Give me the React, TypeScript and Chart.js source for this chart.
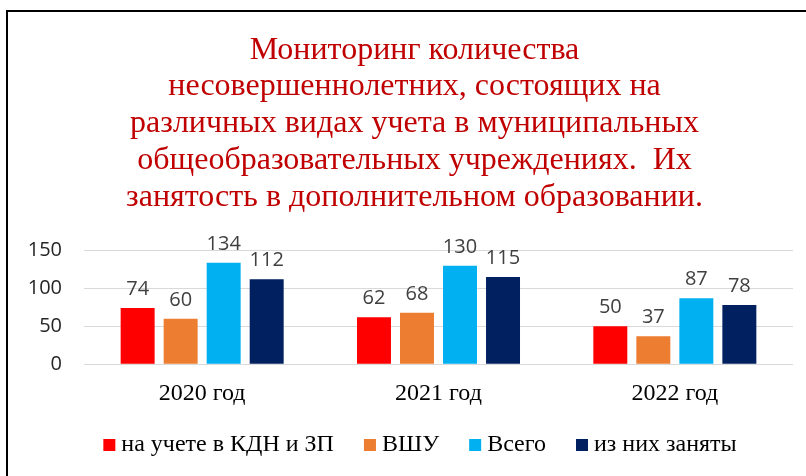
import { useEffect, useRef } from "react";
import { Chart, registerables } from "chart.js";

Chart.register(...registerables);

const categories = ["2020 год", "2021 год", "2022 год"];
const seriesNames = ["на учете в КДН и ЗП", "ВШУ", "Всего", "из них заняты"];
const kdnValues = [74, 62, 50];
const vshuValues = [60, 68, 37];
const totalValues = [134, 130, 87];
const employedValues = [112, 115, 78];
const seriesColors = ["#FF0000", "#ED7D31", "#00B0F0", "#002060"];
const yMin = 0;
const yMax = 150;
const yStep = 50;
const titleLines = [
  "Мониторинг количества",
  "несовершеннолетних, состоящих на",
  "различных видах учета в муниципальных",
  "общеобразовательных учреждениях.  Их",
  "занятость в дополнительном образовании.",
];

const frameLegendLabels = {
  id: "frameLegendLabels",
  afterLayout(chart: any) {
    const tb = chart.titleBlock;
    if (tb) {
      tb.left += 6;
      tb.right += 6;
    }
  },
  beforeDraw(chart: any) {
    const ctx = chart.ctx;
    ctx.save();
    ctx.fillStyle = "#ffffff";
    ctx.fillRect(0, 0, chart.width, chart.height);
    ctx.fillStyle = "#000000";
    ctx.fillRect(6, 10, 2, chart.height - 10);
    ctx.fillRect(6, 10, chart.width - 6, 2);
    ctx.restore();
  },
  afterDatasetsDraw(chart: any) {
    const ctx = chart.ctx;
    ctx.save();
    ctx.font = "20px 'Open Sans'";
    ctx.fillStyle = "#404040";
    ctx.textAlign = "center";
    ctx.textBaseline = "alphabetic";
    chart.data.datasets.forEach((ds: any, i: number) => {
      const meta = chart.getDatasetMeta(i);
      meta.data.forEach((bar: any, j: number) => {
        ctx.fillText(String(ds.data[j]), bar.x, bar.y - 13);
      });
    });
    ctx.restore();
  },
  afterDraw(chart: any) {
    const ctx = chart.ctx;
    ctx.save();
    ctx.font = "24px 'Liberation Serif'";
    const box = 12;
    const gap = 6;
    const spacing = 30;
    const widths = seriesNames.map((n) => ctx.measureText(n).width);
    const total =
      widths.reduce((a, w) => a + box + gap + w, 0) + spacing * (seriesNames.length - 1);
    let x = chart.width / 2 + 17 - total / 2;
    const cy = 445;
    ctx.textAlign = "left";
    ctx.textBaseline = "middle";
    seriesNames.forEach((n, i) => {
      ctx.fillStyle = seriesColors[i];
      ctx.fillRect(x, cy - box / 2, box, box);
      x += box + gap;
      ctx.fillStyle = "#000000";
      ctx.fillText(n, x, cy);
      x += widths[i] + spacing;
    });
    ctx.restore();
  },
};

export default function App() {
  const ref = useRef<HTMLCanvasElement | null>(null);
  useEffect(() => {
    if (!ref.current) return;
    const seriesValues = [kdnValues, vshuValues, totalValues, employedValues];
    const chart = new Chart(ref.current, {
      type: "bar",
      data: {
        labels: categories,
        datasets: seriesNames.map((name, i) => ({
          label: name,
          data: seriesValues[i],
          backgroundColor: seriesColors[i],
          borderWidth: 0,
          categoryPercentage: 0.728,
          barPercentage: 0.79,
        })),
      },
      options: {
        animation: false,
        responsive: false,
        maintainAspectRatio: false,
        layout: { padding: { left: 24, right: 13, top: 32, bottom: 53 } },
        plugins: {
          title: {
            display: true,
            text: titleLines,
            color: "#C00000",
            font: { family: "'Liberation Serif'", size: 32, weight: "normal", lineHeight: 1.147 },
            padding: { top: 0, bottom: 35 },
          },
          legend: { display: false },
          tooltip: { enabled: false },
        },
        scales: {
          x: {
            grid: { display: false, drawTicks: false },
            border: { display: false },
            ticks: {
              color: "#000000",
              font: { family: "'Liberation Serif'", size: 24 },
              padding: 15,
            },
          },
          y: {
            min: yMin,
            max: yMax,
            afterFit(axis: any) {
              axis.width = 60;
            },
            grid: { color: "#D9D9D9", lineWidth: 1, drawTicks: false },
            border: { display: false },
            ticks: {
              stepSize: yStep,
              color: "#262626",
              padding: 22,
              font: { family: "'Open Sans'", size: 20 },
            },
          },
        },
      },
      plugins: [frameLegendLabels],
    });
    return () => chart.destroy();
  }, []);
  return (
    <div style={{ position: "fixed", left: 0, top: 0, width: 806, height: 476 }}>
      <canvas ref={ref} width={806} height={476} style={{ width: 806, height: 476, display: "block" }} />
    </div>
  );
}
